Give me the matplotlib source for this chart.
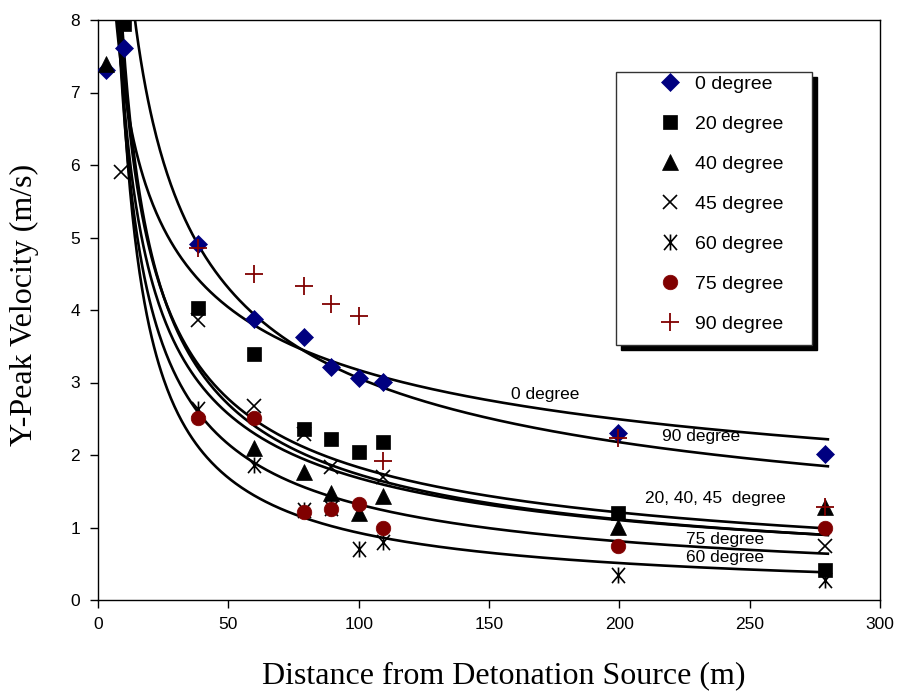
import numpy as np
import matplotlib
matplotlib.use('Agg')
import matplotlib.pyplot as plt
from matplotlib.path import Path
from matplotlib.patches import Rectangle

# ---------------- data ----------------
x_0 = [3, 10, 38.5, 60, 79, 89.5, 100, 109.5, 199.5, 279]
y_0 = [7.31, 7.62, 4.91, 3.88, 3.63, 3.22, 3.06, 3.01, 2.31, 2.02]
x_20 = [10, 38.5, 60, 79, 89.5, 100, 109.5, 199.5, 279]
y_20 = [7.95, 4.03, 3.39, 2.36, 2.22, 2.04, 2.18, 1.20, 0.41]
x_40 = [3, 60, 79, 89.5, 100, 109.5, 199.5, 279]
y_40 = [7.40, 2.09, 1.77, 1.48, 1.20, 1.44, 1.01, 1.28]
x_45 = [9, 38.5, 60, 79, 89.5, 109.5, 279]
y_45 = [5.91, 3.86, 2.67, 2.29, 1.84, 1.69, 0.75]
x_60 = [38.5, 60, 79, 89.5, 100, 109.5, 199.5, 279]
y_60 = [2.64, 1.86, 1.24, 1.27, 0.71, 0.80, 0.34, 0.28]
x_75 = [38.5, 60, 79, 89.5, 100, 109.5, 199.5, 279]
y_75 = [2.51, 2.51, 1.21, 1.26, 1.32, 0.99, 0.74, 0.99]
x_90 = [38.5, 60, 79, 89.5, 100, 109.5, 199.5, 279]
y_90 = [4.86, 4.49, 4.33, 4.08, 3.92, 1.92, 2.23, 1.28]

series_labels = ['0 degree', '20 degree', '40 degree', '45 degree',
                 '60 degree', '75 degree', '90 degree']

# power-law trend curves  y = a * x^-b
curve_names = ['0 degree', '90 degree', '20 degree', '40 degree',
               '45 degree', '75 degree', '60 degree']
curve_a = [15.75, 29.5, 29.0, 33.0, 27.9, 33.9, 49.3]
curve_b = [0.348, 0.492, 0.60, 0.64, 0.61, 0.705, 0.863]
curve_x_range = (4, 280)

annot_text = ['0 degree', '90 degree', '20, 40, 45  degree', '75 degree', '60 degree']
annot_x = [171.5, 231.5, 236.7, 240.5, 240.5]
annot_y = [2.83, 2.25, 1.40, 0.83, 0.58]

x_ticks = [0, 50, 100, 150, 200, 250, 300]
y_ticks = [0, 1, 2, 3, 4, 5, 6, 7, 8]

# ---------------- figure ----------------
W, H = 900, 691
fig = plt.figure(figsize=(W / 100, H / 100), dpi=100)
sans = ['Liberation Sans', 'DejaVu Sans']
serif = ['Liberation Serif', 'DejaVu Serif']
plt.rcParams['font.family'] = sans

ax = fig.add_axes([98 / W, 1 - 600 / H, 782 / W, 580 / H])

# curves
xc = np.linspace(curve_x_range[0], curve_x_range[1], 600)
for a, b in zip(curve_a, curve_b):
    ax.plot(xc, a * xc ** (-b), color='black', lw=1.9, zorder=2)

# star marker (asterisk with vertical bar)
star_path = Path([(-0.85, -1), (0.85, 1), (-0.85, 1), (0.85, -1), (0, -1.05), (0, 1.05)],
                 [Path.MOVETO, Path.LINETO, Path.MOVETO, Path.LINETO, Path.MOVETO, Path.LINETO])

navy = '#000080'
dred = '#800000'
styles = [
    dict(marker='D', color=navy, ms=8.8, mec=navy, mew=0.5),
    dict(marker='s', color='black', ms=10, mec='black', mew=0.5),
    dict(marker='^', color='black', ms=11, mec='black', mew=0.5),
    dict(marker='x', color='black', ms=10.5, mew=1.2),
    dict(marker=star_path, color='black', ms=11.5, mew=1.2, mfc='none'),
    dict(marker='o', color=dred, ms=10.5, mec=dred, mew=0.5),
    dict(marker='+', color=dred, ms=12.5, mew=1.3),
]
xs = [x_0, x_20, x_40, x_45, x_60, x_75, x_90]
ys = [y_0, y_20, y_40, y_45, y_60, y_75, y_90]
handles = []
for xv, yv, st, lab in zip(xs, ys, styles, series_labels):
    h, = ax.plot(xv, yv, ls='none', label=lab, zorder=3, **st)
    handles.append(h)

for t, xa, ya in zip(annot_text, annot_x, annot_y):
    ax.text(xa, ya, t, ha='center', va='center', fontsize=12.5, family=sans, zorder=4)

ax.set_xlim(0, 300)
ax.set_ylim(0, 8)
ax.set_xticks(x_ticks)
ax.set_yticks(y_ticks)
ax.tick_params(direction='out', length=6, width=1, labelsize=12.5, colors='black', pad=6)
ax.tick_params(axis='y', pad=7)
for s in ax.spines.values():
    s.set_linewidth(1.0)
    s.set_color('black')

fig.text(504 / W, 1 - 676 / H, 'Distance from Detonation Source (m)',
         ha='center', va='center', fontsize=23, family=serif)
fig.text(24 / W, 1 - 305 / H, 'Y-Peak Velocity (m/s)', rotation=90,
         ha='center', va='center', fontsize=23, family=serif)

# legend frame with shadow
lx0, ly0, lx1, ly1 = 615.7, 71.7, 811.7, 345.0
shadow = Rectangle(((lx0 + 5) / W, 1 - (ly1 + 5) / H), (lx1 - lx0) / W, (ly1 - ly0) / H,
                   transform=fig.transFigure, facecolor='black', edgecolor='black', zorder=5)
frame = Rectangle((lx0 / W, 1 - ly1 / H), (lx1 - lx0) / W, (ly1 - ly0) / H,
                  transform=fig.transFigure, facecolor='white', edgecolor='#333333',
                  lw=1.0, zorder=6)
fig.add_artist(shadow)
fig.add_artist(frame)

leg = fig.legend(handles=handles, labels=series_labels, loc='upper left',
                 bbox_to_anchor=(650.6 / W, 1 - 75.5 / H), frameon=False,
                 borderpad=0, handlelength=2.0, handletextpad=0.29,
                 labelspacing=1.15, fontsize=14, borderaxespad=0)
leg.set_zorder(7)

fig.savefig('out.png', dpi=100)
